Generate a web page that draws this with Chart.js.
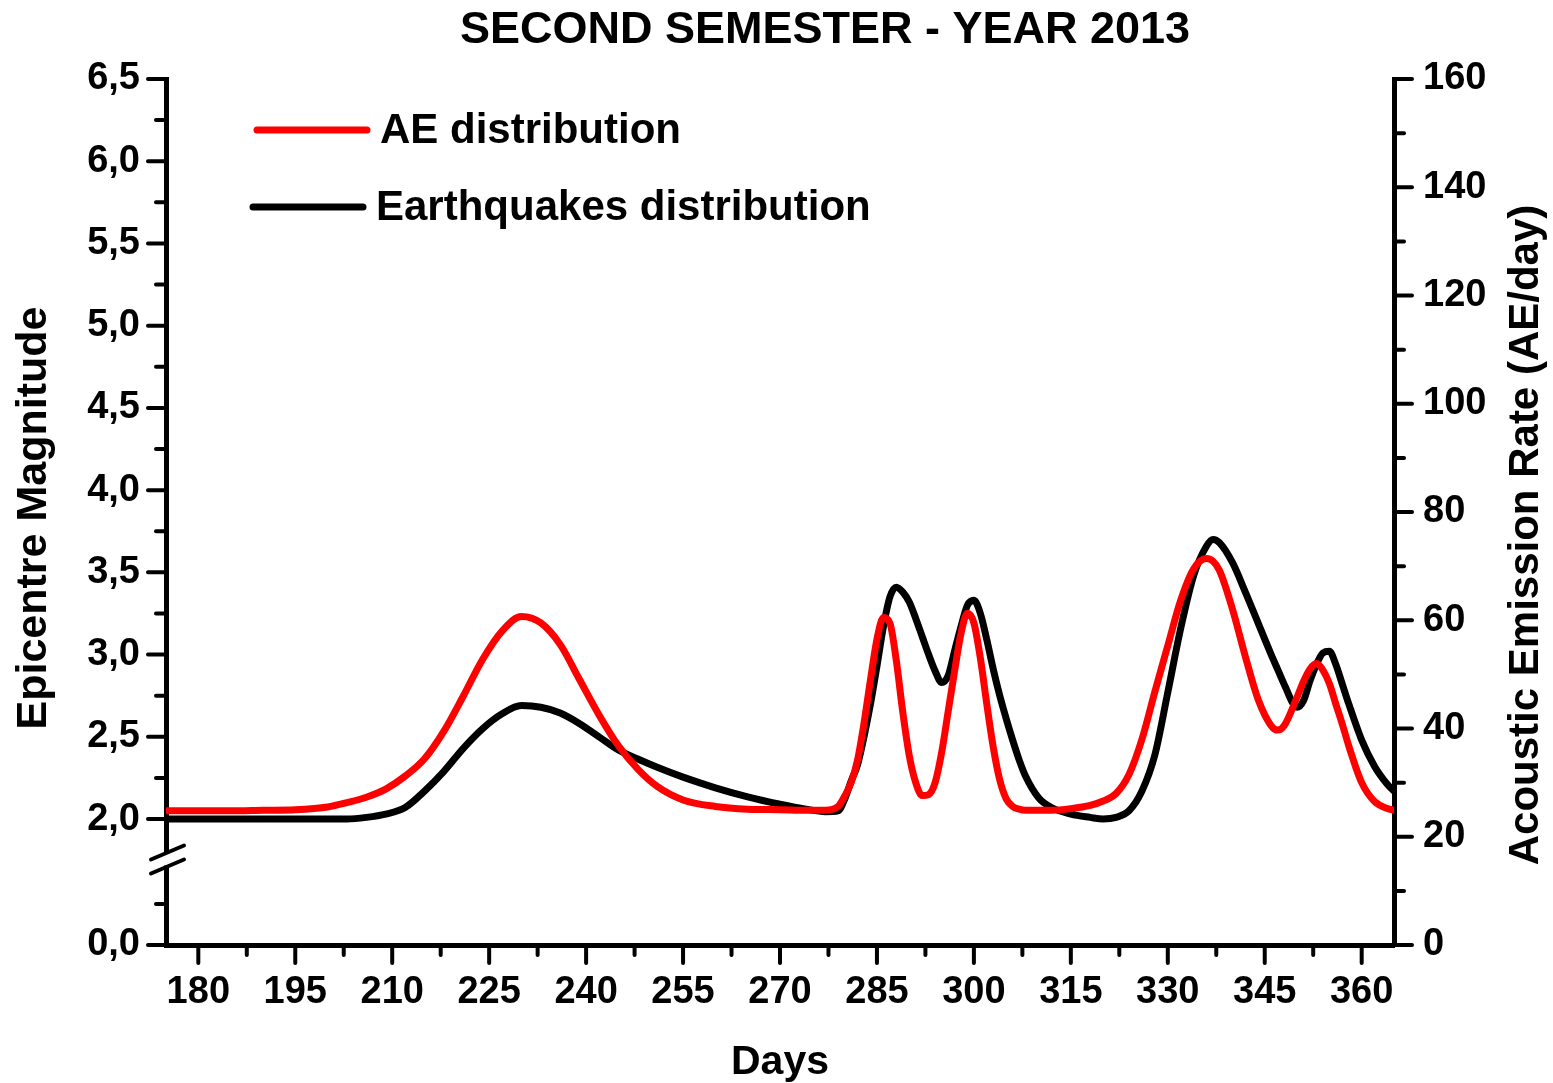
<!DOCTYPE html>
<html>
<head>
<meta charset="utf-8">
<title>Second semester 2013</title>
<script src="https://cdn.jsdelivr.net/npm/chart.js@4.4.0/dist/chart.umd.min.js"></script>
<style>
  html, body { margin: 0; padding: 0; background: #ffffff; }
  #wrap { width: 1553px; height: 1083px; }
</style>
</head>
<body>
<div id="wrap"><canvas id="chart" width="1553" height="1083"></canvas></div>
<script>
// Day of year (x axis)
const days = [175,180,185,190,195,200,203,206,209,212,215,218,221,224,227,230,233,236,239,242,245,248,251,255,
  260,265,270,274,277,279,280,281,282,283,284,285,286,287,288,289,290,291,292,293,294,295,296,297,298,299,300,
  301,302,303,304,305,306,307,308,310,312,315,318,320,322,324,326,328,330,332,334,336,337,338,340,342,344,346,
  347,348,350,351,352,353,354,355,356,357,358,360,362,364,365];

// Acoustic emission rate, AE/day (right axis)
const aeRate = [24.8,24.8,24.8,24.9,25.0,25.5,26.3,27.3,28.8,31.2,34.4,39.5,46.0,52.8,58.0,60.7,59.5,55.5,49.0,42.5,36.8,32.5,29.3,26.8,
  25.6,25.1,25.0,24.9,24.9,25.6,27.5,30.0,34.2,41.0,49.0,56.5,60.5,59.5,52.5,43.0,35.0,30.0,27.6,27.8,30.0,35.5,43.0,50.5,57.5,61.3,59.5,
  53.0,44.5,36.5,30.5,27.0,25.6,25.1,24.9,24.9,24.9,25.2,25.8,26.6,28.0,31.5,38.0,46.8,55.3,63.7,69.5,71.4,70.9,69.2,62.1,53.3,45.3,40.5,
  39.7,40.5,45.8,48.7,51.0,52.0,50.8,48.3,44.5,40.8,36.8,30.0,26.5,25.2,24.9];

// Epicentre magnitude (left axis)
const magnitude = [2.0,2.0,2.0,2.0,2.0,2.0,2.0,2.01,2.03,2.07,2.17,2.29,2.43,2.55,2.64,2.69,2.68,2.645,2.58,2.50,2.42,2.365,2.315,2.255,
  2.19,2.135,2.09,2.06,2.045,2.05,2.12,2.23,2.33,2.50,2.70,2.93,3.17,3.35,3.41,3.38,3.32,3.22,3.11,3.00,2.90,2.83,2.87,3.02,3.17,3.30,3.33,
  3.25,3.09,2.91,2.75,2.61,2.48,2.36,2.26,2.13,2.07,2.03,2.01,2.0,2.01,2.05,2.17,2.39,2.77,3.16,3.48,3.66,3.70,3.68,3.56,3.38,3.19,3.00,
  2.91,2.82,2.68,2.72,2.84,2.94,3.01,3.02,2.94,2.82,2.70,2.48,2.32,2.21,2.17];

// Tick labels
const dayTicks = [180,195,210,225,240,255,270,285,300,315,330,345,360];
const dayMinorTicks = [187.5,202.5,217.5,232.5,247.5,262.5,277.5,292.5,307.5,322.5,337.5,352.5];
const magTicks = [2.0,2.5,3.0,3.5,4.0,4.5,5.0,5.5,6.0,6.5];
const magMinorTicks = [2.25,2.75,3.25,3.75,4.25,4.75,5.25,5.75,6.25];
const magStubTicks = [0];          // lower stub of the broken magnitude axis
const magStubMinorTicks = [0.25];
const rateTicks = [0,20,40,60,80,100,120,140,160];
const rateMinorTicks = [10,30,50,70,90,110,130,150];

const chartTitle = 'SECOND SEMESTER - YEAR 2013';

// The magnitude axis is broken: the short stub starting at 0 is shifted up
// so that it sits directly under the 2.0 - 6.5 section.
const STUB_SHIFT = 1.234;
const STUB_BREAK_AT = 0.52;

const FONT = "'Liberation Sans', Arial, Helvetica, sans-serif";
const fmtComma = v => v.toFixed(1).replace('.', ',');

const MAJOR_LEN = 18, MINOR_LEN = 10, TICK_W = 4;

// Tick marks (major + minor), axis break, titles and legend
const decorPlugin = {
  id: 'decor',
  afterDraw(chart) {
    const ctx = chart.ctx;
    const area = chart.chartArea;
    const sx = chart.scales.x, sl = chart.scales.yMag, sr = chart.scales.yRate;
    ctx.save();
    ctx.strokeStyle = '#000';
    ctx.lineWidth = TICK_W;
    ctx.lineCap = 'round';
    const hTick = (y, x0, len) => { ctx.beginPath(); ctx.moveTo(x0, y); ctx.lineTo(x0 + len, y); ctx.stroke(); };
    const vTick = (x, y0, len) => { ctx.beginPath(); ctx.moveTo(x, y0); ctx.lineTo(x, y0 + len); ctx.stroke(); };

    dayTicks.forEach(v => vTick(sx.getPixelForValue(v), area.bottom, MAJOR_LEN));
    dayMinorTicks.forEach(v => vTick(sx.getPixelForValue(v), area.bottom, MINOR_LEN));

    magTicks.concat(magStubTicks.map(v => v + STUB_SHIFT))
      .forEach(v => hTick(sl.getPixelForValue(v), area.left, -MAJOR_LEN));
    magMinorTicks.concat(magStubMinorTicks.map(v => v + STUB_SHIFT))
      .forEach(v => hTick(sl.getPixelForValue(v), area.left, -MINOR_LEN));

    rateTicks.forEach(v => hTick(sr.getPixelForValue(v), area.right, MAJOR_LEN));
    rateMinorTicks.forEach(v => hTick(sr.getPixelForValue(v), area.right, MINOR_LEN));

    // axis break on the magnitude axis
    const yb = sl.getPixelForValue(STUB_BREAK_AT + STUB_SHIFT);
    const xa = area.left + 1;
    ctx.fillStyle = '#fff';
    ctx.fillRect(xa - 4, yb - 6, 8, 12);
    [-7, 7].forEach(d => {
      ctx.beginPath();
      ctx.moveTo(xa - 16, yb + d + 7);
      ctx.lineTo(xa + 17, yb + d - 7);
      ctx.stroke();
    });

    ctx.fillStyle = '#000';
    ctx.textBaseline = 'middle';

    // chart title
    ctx.font = 'bold 45px ' + FONT;
    ctx.textAlign = 'center';
    ctx.fillText(chartTitle, 825, 31);

    // vertical axis titles
    const vTitle = (text, size, x, y) => {
      ctx.save();
      ctx.font = 'bold ' + size + 'px ' + FONT;
      ctx.translate(x, y); ctx.rotate(-Math.PI / 2); ctx.fillText(text, 0, 0);
      ctx.restore();
    };
    vTitle('Epicentre Magnitude', 43, area.left - 132, 518);
    vTitle('Acoustic Emission Rate (AE/day)', 42, area.right + 132, 535);

    // legend
    const rows = [{y: 130, x0: 257, x1: 367, tx: 380}, {y: 207, x0: 253, x1: 363, tx: 376}];
    ctx.font = 'bold 42px ' + FONT;
    ctx.textAlign = 'left';
    chart.data.datasets.forEach((ds, i) => {
      const r = rows[i];
      ctx.strokeStyle = ds.borderColor;
      ctx.lineWidth = 7;
      ctx.beginPath(); ctx.moveTo(r.x0, r.y); ctx.lineTo(r.x1, r.y); ctx.stroke();
      ctx.fillText(ds.label, r.tx, r.y + 1);
    });
    ctx.restore();
  }
};

const tickFont = { family: FONT, size: 38, weight: 'bold' };
const noGrid = { display: false, drawTicks: false, tickLength: 0 };
const axisBorder = { display: true, color: '#000', width: 5 };

new Chart(document.getElementById('chart'), {
  type: 'line',
  data: {
    datasets: [
      {
        label: 'AE distribution',
        data: days.map((d, i) => ({ x: d, y: aeRate[i] })),
        yAxisID: 'yRate',
        borderColor: '#ff0000',
        borderWidth: 7,
        pointRadius: 0,
        cubicInterpolationMode: 'monotone',
        borderJoinStyle: 'round',
        borderCapStyle: 'round',
        fill: false
      },
      {
        label: 'Earthquakes distribution',
        data: days.map((d, i) => ({ x: d, y: magnitude[i] })),
        yAxisID: 'yMag',
        borderColor: '#000000',
        borderWidth: 7,
        pointRadius: 0,
        cubicInterpolationMode: 'monotone',
        borderJoinStyle: 'round',
        borderCapStyle: 'round',
        fill: false
      }
    ]
  },
  options: {
    responsive: false,
    animation: false,
    devicePixelRatio: 1,
    layout: { padding: { top: 79, left: 0, right: 0, bottom: 0 } },
    plugins: {
      legend: { display: false },
      tooltip: { enabled: false },
      title: { display: false }
    },
    scales: {
      x: {
        type: 'linear',
        position: 'bottom',
        min: 175,
        max: 365,
        grid: noGrid,
        border: axisBorder,
        afterBuildTicks: s => { s.ticks = dayTicks.map(v => ({ value: v })); },
        afterFit: s => { s.height = 138; },
        ticks: { color: '#000', font: tickFont, padding: 25, maxRotation: 0, autoSkip: false,
                 callback: v => String(v) },
        title: { display: true, text: 'Days', color: '#000',
                 font: { family: FONT, size: 41, weight: 'bold', lineHeight: 1 },
                 padding: { top: 0, bottom: 0 } }
      },
      yMag: {
        type: 'linear',
        position: 'left',
        min: STUB_SHIFT,
        max: 6.5,
        grid: noGrid,
        border: axisBorder,
        afterBuildTicks: s => {
          s.ticks = magStubTicks.map(v => ({ value: v + STUB_SHIFT })).concat(magTicks.map(v => ({ value: v })));
        },
        afterFit: s => { s.width = 166; },
        ticks: { color: '#000', font: tickFont, padding: 26, autoSkip: false,
                 callback: v => fmtComma(v < 2 ? v - STUB_SHIFT : v) }
      },
      yRate: {
        type: 'linear',
        position: 'right',
        min: 0,
        max: 160,
        grid: noGrid,
        border: axisBorder,
        afterBuildTicks: s => { s.ticks = rateTicks.map(v => ({ value: v })); },
        afterFit: s => { s.width = 159; },
        ticks: { color: '#000', font: tickFont, padding: 29, autoSkip: false,
                 callback: v => String(v) }
      }
    }
  },
  plugins: [decorPlugin]
});
</script>
</body>
</html>
